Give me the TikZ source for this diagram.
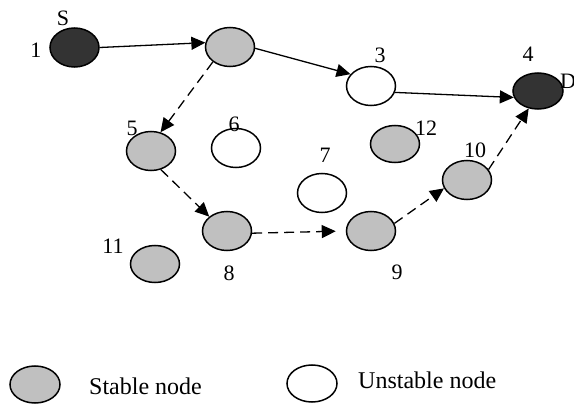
\documentclass[tikz,border=0pt]{standalone}
\usepackage{fontspec}
\setmainfont{Liberation Serif}
\usetikzlibrary{shapes.geometric,arrows.meta}
\definecolor{stablegray}{RGB}{192,192,192}
\definecolor{darknode}{RGB}{51,51,51}
\tikzset{
  nd/.style={ellipse,draw=black,line width=1.5pt,inner sep=0pt,minimum width=49pt,minimum height=39pt},
  stable/.style={nd,fill=stablegray},
  unstable/.style={nd,fill=white},
  endpt/.style={nd,fill=darknode},
  lbl/.style={inner sep=0pt,font=\fontsize{22}{22}\selectfont},
  legtxt/.style={inner sep=0pt,font=\fontsize{24}{24}\selectfont},
  link/.style={line width=1.3pt,-{Triangle[length=14pt,width=13pt]}},
  dlink/.style={link,dash pattern=on 10pt off 6pt},
}
\begin{document}
\begin{tikzpicture}[x=1pt,y=-1pt]
\useasboundingbox (0,0) rectangle (574,404);
% nodes
\node[endpt] (n1) at (74.5,47.5) {};
\node[stable] (n2) at (230,47) {};
\node[unstable] (n3) at (371,86) {};
\node[endpt,minimum height=36pt,minimum width=50pt] (n4) at (538,91) {};
\node[stable] (n5) at (151,151) {};
\node[unstable] (n6) at (236,148) {};
\node[unstable] (n7) at (322,193) {};
\node[stable] (n8) at (227,231) {};
\node[stable] (n9) at (371,231) {};
\node[stable] (n10) at (467,180) {};
\node[stable,minimum height=37pt] (n11) at (155,264) {};
\node[stable,minimum height=37pt] (n12) at (395,144) {};
% labels
\node[lbl] (lS) at (63,18) {S};
\node[lbl] (l1) at (36,50) {1};
\node[lbl] (l3) at (380,55) {3};
\node[lbl] (l4) at (528,54) {4};
\node[lbl] (lD) at (568,81) {D};
\node[lbl] (l5) at (132,128) {5};
\node[lbl] (l6) at (234,124) {6};
\node[lbl] (l7) at (325,155) {7};
\node[lbl] (l8) at (229,273) {8};
\node[lbl] (l9) at (397,272) {9};
\node[lbl] (l10) at (475,150) {10};
\node[lbl] (l11) at (113,246) {11};
\node[lbl] (l12) at (426,128) {12};
% connectors
\draw[link] (n1.east) -- (n2.170);
\draw[link] (n2.-3) -- (n3.150);
\draw[link] (n3.-15) -- (n4.195);
\draw[dlink] (n2.221) -- (n5.63);
\draw[dlink] (n5.-62) -- (n8.141);
\draw[dlink,shorten >=10pt] (n8.-5) -- (n9.west);
\draw[dlink] (n9.18) -- (n10.200);
\draw[dlink] (n10.26) -- (n4.242);
% legend
\node[stable,minimum width=50pt,minimum height=37pt] (ls) at (35,384.5) {};
\node[unstable,minimum width=50pt,minimum height=37pt] (lu) at (312,383.5) {};
\node[legtxt,anchor=base west] (ts) at (89,394) {Stable node};
\node[legtxt,anchor=base west] (tu) at (358,388) {Unstable node};
\end{tikzpicture}
\end{document}
